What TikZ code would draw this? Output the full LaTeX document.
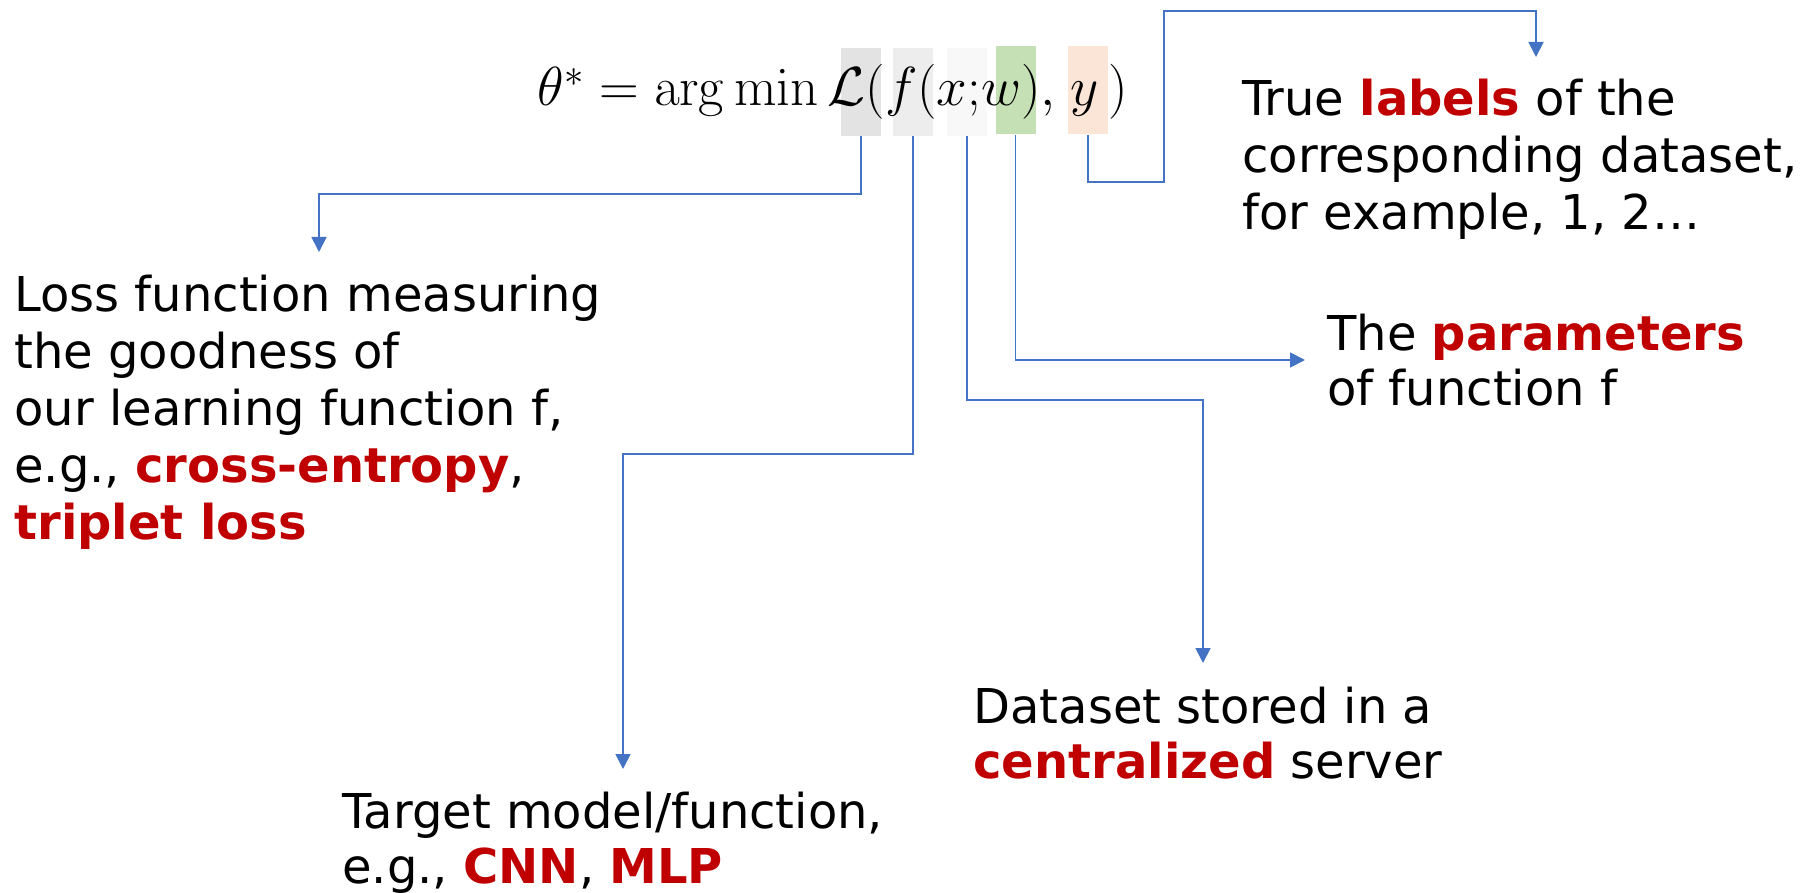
\RequirePackage{fix-cm}
\documentclass[tikz,border=0pt]{standalone}
\usepackage[no-math]{fontspec}
\setmainfont{DejaVu Sans}
\usetikzlibrary{arrows.meta}
\definecolor{linkblue}{HTML}{4472C4}
\definecolor{hotred}{HTML}{C00000}
\definecolor{lossbg}{HTML}{E3E3E3}
\definecolor{funcbg}{HTML}{EDEDED}
\definecolor{databg}{HTML}{F8F8F8}
\definecolor{parambg}{HTML}{C5E0B4}
\definecolor{labelbg}{HTML}{FBE5D6}
\newcommand\hot[1]{\textcolor{hotred}{\textbf{#1}}}
\begin{document}
\begin{tikzpicture}[x=0.5pt,y=-0.5pt,
  link/.style={draw=linkblue, line width=0.9pt, -{Triangle[width=7.5pt,length=7.5pt]}},
  hl/.style={draw=none, inner sep=0pt, minimum width=20pt, minimum height=44pt},
  note/.style={anchor=base west, inner sep=0pt, align=left, font=\fontsize{24}{27.5}\selectfont},
  loose/.style={font=\fontsize{24}{28.5}\selectfont}]
\useasboundingbox (0,0) rectangle (1810,893);
\fill[white] (0,0) rectangle (1810,893);

% highlighted terms of the objective
\node[hl, fill=lossbg]  (bL) at (861,92) {};
\node[hl, fill=funcbg]  (bF) at (913,92) {};
\node[hl, fill=databg]  (bX) at (967,92) {};
\node[hl, fill=parambg] (bW) at (1015.5,90.5) {};
\node[hl, fill=labelbg] (bY) at (1088,90.5) {};

% the objective
\node[anchor=base west, inner sep=0pt, font=\fontsize{27.5}{32}\selectfont] (eq) at (537,106)
  {$\theta^* = \arg\min \mathcal{L}(f(x{;}w),\mkern2mu y\mkern3mu)$};

% explanations (each anchored at the baseline of its last line)
\node[note, loose] (loss) at (14,539) {Loss function measuring\\the goodness of\\our learning function f,\\e.g., \hot{cross-entropy},\\\hot{triplet loss}};
\node[note, loose] (labels) at (1242,230) {True \hot{labels} of the\\corresponding dataset,\\for example, 1, 2…};
\node[note] (params) at (1327,405) {The \hot{parameters}\\of function f};
\node[note] (data) at (973,778) {Dataset stored in a\\\hot{centralized} server};
\node[note] (model) at (342,883) {Target model/function,\\e.g., \hot{CNN}, \hot{MLP}};

% corners of the connectors
\coordinate (cL1) at (861,194);
\coordinate (tL)  at (319,252);
\coordinate (cF1) at (913,454);
\coordinate (tF)  at (623,769);
\coordinate (cX1) at (967,400);
\coordinate (tX)  at (1203,663);
\coordinate (tW)  at (1305,360);
\coordinate (cY1) at (1088,182);
\coordinate (cY2) at (1164,182);
\coordinate (cY3) at (1164,11);
\coordinate (tY)  at (1536,57);

\draw[link] (bL.south) -- (cL1) -| (tL);
\draw[link] (bF.south) |- (cF1) -| (tF);
\draw[link] (bX.south) |- (cX1) -| (tX);
\draw[link] (bW.south) |- (tW);
\draw[link] (bY.south) -- (cY1) -- (cY2) -- (cY3) -| (tY);
\end{tikzpicture}
\end{document}
